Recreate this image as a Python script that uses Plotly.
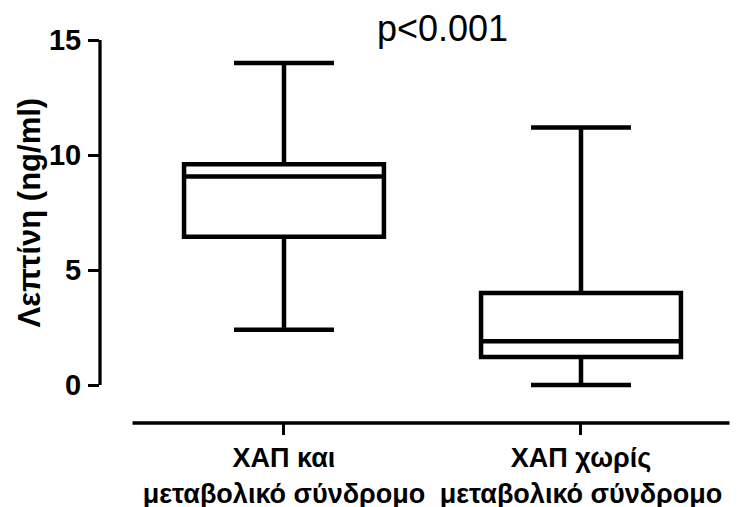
import plotly.graph_objects as go

categories = ["ΧΑΠ και<br>μεταβολικό σύνδρομο", "ΧΑΠ χωρίς<br>μεταβολικό σύνδρομο"]
upper_whisker = [14.0, 11.2]
q3_values = [9.6, 4.0]
median_values = [9.06, 1.9]
q1_values = [6.45, 1.22]
lower_whisker = [2.4, 0.0]
y_ticks = [0, 5, 10, 15]
y_title = "Λεπτίνη (ng/ml)"
p_text = "p<0.001"

FONT = "Liberation Sans, Arial, sans-serif"

fig = go.Figure()
fig.add_trace(go.Box(
    x=list(range(len(categories))),
    q1=q1_values, median=median_values, q3=q3_values,
    lowerfence=lower_whisker, upperfence=upper_whisker,
    boxpoints=False,
    width=0.673,
    whiskerwidth=0.5,
    line=dict(color="black", width=4.5),
    fillcolor="rgba(255,255,255,0)",
    showlegend=False,
    hoverinfo="skip",
))

W, H = 739, 507
ml, mr, mt, mb = 100, 2, 40, 84
ph = H - mt - mb
pw = W - ml - mr

annotations = [
    dict(text=y_title, xref="paper", yref="y", x=(29 - ml) / pw,
         y=(min(y_ticks) + max(y_ticks)) / 2, textangle=-90, showarrow=False,
         xanchor="center", yanchor="middle",
         font=dict(family=FONT, size=31, weight="bold", color="black")),
    dict(text=p_text, xref="paper", yref="paper", x=(442 - ml) / pw,
         y=1 + (mt - 29) / ph, showarrow=False,
         xanchor="center", yanchor="middle",
         font=dict(family=FONT, size=36, color="black")),
]

fig.update_layout(
    width=W, height=H,
    margin=dict(l=ml, r=mr, t=mt, b=mb, pad=0, autoexpand=False),
    paper_bgcolor="white", plot_bgcolor="white",
    font=dict(family=FONT, color="black"),
    xaxis=dict(
        range=[-0.6195, 1.5253],
        automargin=False,
        tickmode="array",
        tickvals=list(range(len(categories))),
        ticktext=categories,
        ticks="outside", ticklen=11, tickwidth=3.3, tickcolor="black",
        showline=False, showgrid=False, zeroline=False,
        tickfont=dict(family=FONT, size=27, weight="bold", color="black"),
    ),
    yaxis=dict(
        range=[-1.652, 15],
        automargin=False,
        tickmode="array",
        tickvals=y_ticks,
        ticktext=[str(v) for v in y_ticks],
        ticks="outside", ticklen=11, tickwidth=3.3, tickcolor="black",
        ticklabelstandoff=1,
        showline=False, showgrid=False, zeroline=False,
        tickfont=dict(family=FONT, size=29, weight="bold", color="black"),
    ),
    shapes=[
        dict(type="line", xref="paper", yref="y", x0=0, x1=0,
             y0=min(y_ticks), y1=max(y_ticks),
             line=dict(color="black", width=3.3)),
        dict(type="line", xref="x", yref="paper", x0=-0.51, x1=len(categories) - 0.5,
             y0=0, y1=0, line=dict(color="black", width=3.3)),
    ],
    annotations=annotations,
)

fig.write_html("out.html", config={"displayModeBar": False},
               post_script="document.body.style.margin='0';")
